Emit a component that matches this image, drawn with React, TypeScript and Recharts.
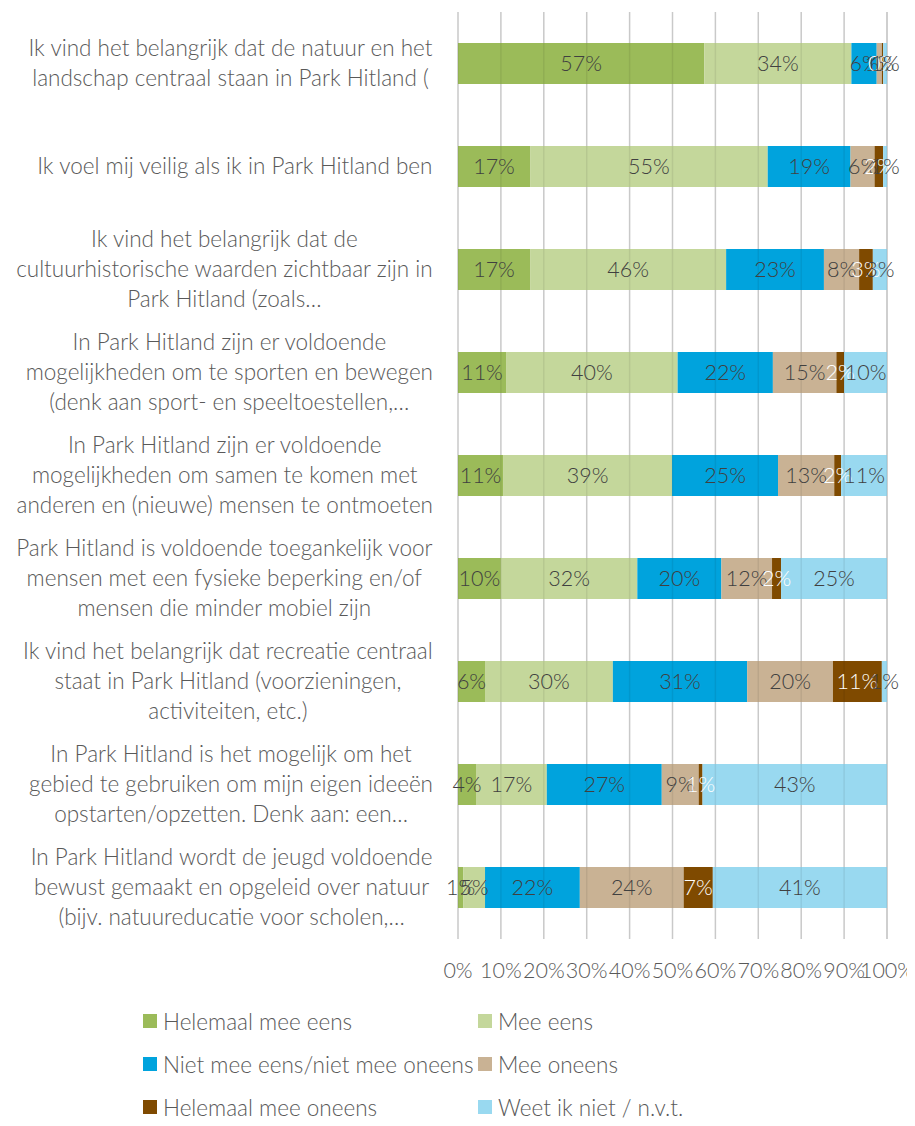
import { BarChart, Bar, XAxis, YAxis, CartesianGrid, LabelList, ReferenceLine } from 'recharts'

const categories = [
  'Ik vind het belangrijk dat de natuur en het\nlandschap centraal staan in Park Hitland (',
  'Ik voel mij veilig als ik in Park Hitland ben',
  'Ik vind het belangrijk dat de\ncultuurhistorische waarden zichtbaar zijn in\nPark Hitland (zoals…',
  'In Park Hitland zijn er voldoende\nmogelijkheden om te sporten en bewegen\n(denk aan sport- en speeltoestellen,…',
  'In Park Hitland zijn er voldoende\nmogelijkheden om samen te komen met\nanderen en (nieuwe) mensen te ontmoeten',
  'Park Hitland is voldoende toegankelijk voor\nmensen met een fysieke beperking en/of\nmensen die minder mobiel zijn',
  'Ik vind het belangrijk dat recreatie centraal\nstaat in Park Hitland (voorzieningen,\nactiviteiten, etc.)',
  'In Park Hitland is het mogelijk om het\ngebied te gebruiken om mijn eigen ideeën\nopstarten/opzetten. Denk aan: een…',
  'In Park Hitland wordt de jeugd voldoende\nbewust gemaakt en opgeleid over natuur\n(bijv. natuureducatie voor scholen,…',
]

const helemaalMeeEens = [57.4, 16.8, 16.8, 11.2, 10.5, 10, 6.3, 4.2, 1.2]
const meeEens = [34.3, 55.4, 45.7, 40, 39.4, 31.8, 29.8, 16.5, 5.1]
const neutraal = [5.9, 19.3, 22.8, 22.2, 24.7, 19.6, 31.3, 26.8, 22.1]
const meeOneens = [1.2, 5.6, 8.2, 14.8, 13.1, 11.8, 20, 8.6, 24.2]
const helemaalMeeOneens = [0.3, 2, 3.2, 1.8, 1.6, 2.1, 11.4, 0.9, 6.8]
const weetNiet = [0.9, 0.9, 3.3, 10, 10.7, 24.7, 1.2, 43, 40.6]

const xTicks = [0, 10, 20, 30, 40, 50, 60, 70, 80, 90, 100]

const series = [
  { key: 'a', name: 'Helemaal mee eens', color: '#9bbb59', label: '#404040' },
  { key: 'b', name: 'Mee eens', color: '#c4d79b', label: '#404040' },
  { key: 'c', name: 'Niet mee eens/niet mee oneens', color: '#00a3dd', label: '#404040' },
  { key: 'd', name: 'Mee oneens', color: '#c9b294', label: '#404040' },
  { key: 'e', name: 'Helemaal mee oneens', color: '#7f4a00', label: '#ffffff' },
  { key: 'f', name: 'Weet ik niet / n.v.t.', color: '#99d9f0', label: '#404040' },
]

const data = categories.map((name, i) => ({
  name,
  a: helemaalMeeEens[i],
  b: meeEens[i],
  c: neutraal[i],
  d: meeOneens[i],
  e: helemaalMeeOneens[i],
  f: weetNiet[i],
}))

const FONT = 'Lato, "Open Sans", sans-serif'
const TEXT = '#595959'
const CAT_SIZE = 22.5

let ctx: CanvasRenderingContext2D | null = null
function textWidth(s: string) {
  if (!ctx) ctx = document.createElement('canvas').getContext('2d')
  if (!ctx) return s.length * 10
  ctx.font = `300 ${CAT_SIZE}px ${FONT}`
  return ctx.measureText(s).width
}

// excel-style wrapped label: lines centred in their block, block right-aligned to the axis
function CategoryTick(props: any) {
  const { y, payload } = props
  const lines = String(payload.value).split('\n')
  const block = Math.max(...lines.map(textWidth))
  const cx = 425 - block / 2
  const lh = 30
  const y0 = y - ((lines.length - 1) * lh) / 2
  return (
    <text textAnchor="middle" fontSize={CAT_SIZE} fontFamily={FONT} fontWeight={300} fill={TEXT}>
      {lines.map((l, i) => (
        <tspan key={i} x={cx} y={y0 + i * lh} dy="0.35em">{l}</tspan>
      ))}
    </text>
  )
}

const pct = (v: any) => `${Math.round(Number(v))}%`

export default function App() {
  return (
    <div style={{ position: 'relative', width: 907, height: 1118, marginBottom: -8, fontFamily: FONT }}>
      <BarChart
        width={907}
        height={990}
        data={data}
        layout="vertical"
        barSize={41}
        margin={{ top: 4, right: 28, bottom: 9, left: 0 }}
      >
        <CartesianGrid horizontal={false} stroke="#d9d9d9" strokeWidth={1.5} />
        <XAxis
          type="number"
          domain={[0, 100]}
          ticks={xTicks}
          tickFormatter={(v) => `${v}%`}
          axisLine={false}
          tickLine={false}
          tickMargin={18}
          height={50}
          interval={0}
          tick={{ fontSize: 21.5, fill: TEXT, fontFamily: FONT, fontWeight: 300 }}
        />
        <YAxis
          type="category"
          dataKey="name"
          width={450}
          axisLine={false}
          tickLine={false}
          interval={0}
          tick={<CategoryTick />}
        />
        {series.map((s) => (
          <Bar key={s.key} dataKey={s.key} name={s.name} stackId="s" fill={s.color} isAnimationActive={false}>
            <LabelList
              dataKey={s.key}
              position="center"
              formatter={pct}
              style={{ fontSize: 21.5, fill: s.label, fontFamily: FONT, fontWeight: 300 }}
            />
          </Bar>
        ))}
        {xTicks.map((t) => (
          <ReferenceLine key={t} x={t} stroke="rgba(0,0,0,0.07)" strokeWidth={1.5} />
        ))}
      </BarChart>
      {series.map((s, i) => (
        <div
          key={s.key}
          style={{
            position: 'absolute',
            left: i % 2 === 0 ? 135 : 470,
            top: 1013 + Math.floor(i / 2) * 43 - 14,
            height: 28,
            display: 'flex',
            alignItems: 'center',
            fontSize: 22.5,
            fontWeight: 300,
            color: TEXT,
            whiteSpace: 'nowrap',
          }}
        >
          <span style={{ width: 14, height: 14, background: s.color, marginRight: 6, display: 'inline-block' }} />
          {s.name}
        </div>
      ))}
    </div>
  )
}
